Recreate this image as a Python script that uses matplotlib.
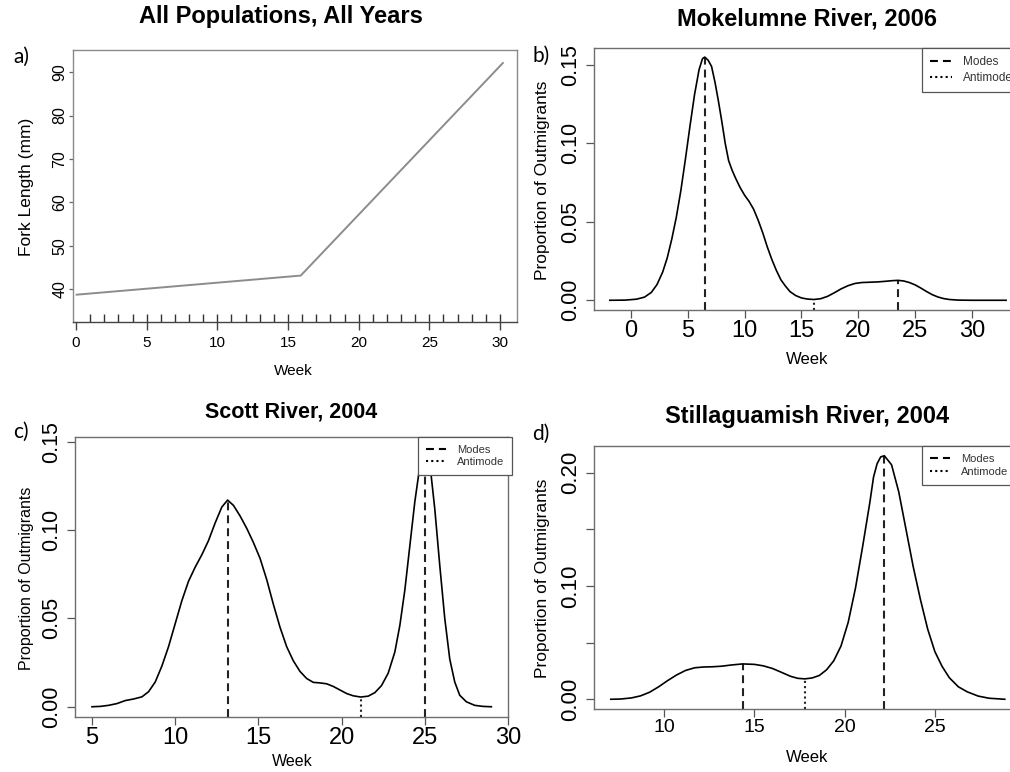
import numpy as np
import matplotlib
matplotlib.use("Agg")
import matplotlib.pyplot as plt
from matplotlib.lines import Line2D

# ---- data ----
# a) fork length vs week
weeks_a = [0.05, 15.9, 30.2]
fork_length = [38.7, 43.1, 92.1]
rug_weeks = list(range(1, 31))

# b) Mokelumne River, 2006
weeks_b = [-1.85, -0.5, 0.5, 1.2, 1.8, 2.3, 2.8, 3.2, 3.6, 4.0, 4.4, 4.8, 5.2, 5.6, 6.0,
           6.3, 6.5, 6.8, 7.1, 7.4, 7.7, 8.0, 8.3, 8.6, 8.9, 9.2, 9.6, 10.0, 10.4, 10.8,
           11.2, 11.6, 12.0, 12.4, 12.8, 13.2, 13.6, 14.0, 14.5, 15.0, 15.5, 16.1, 16.7,
           17.3, 17.9, 18.5, 19.1, 19.7, 20.3, 21.0, 21.7, 22.4, 23.0, 23.5, 24.0, 24.5,
           25.0, 25.5, 26.0, 26.5, 27.0, 27.5, 28.0, 28.8, 30.0, 31.5, 33.0]
prop_b = [0.0, 0.0001, 0.0007, 0.002, 0.005, 0.010, 0.018, 0.027, 0.039, 0.053, 0.070,
          0.090, 0.111, 0.131, 0.147, 0.154, 0.155, 0.153, 0.149, 0.139, 0.127, 0.114,
          0.100, 0.089, 0.083, 0.078, 0.072, 0.067, 0.063, 0.058, 0.051, 0.043, 0.034,
          0.026, 0.019, 0.013, 0.009, 0.0055, 0.003, 0.0015, 0.0008, 0.0005, 0.001,
          0.0025, 0.0048, 0.0073, 0.0093, 0.0107, 0.0113, 0.0115, 0.0117, 0.0121, 0.0125,
          0.0127, 0.0123, 0.0113, 0.0098, 0.0078, 0.0056, 0.0036, 0.0021, 0.0011, 0.0005,
          0.0001, 0.0, 0.0, 0.0]
modes_b = [6.5, 23.5]
mode_h_b = [0.155, 0.0127]
anti_b = [16.1]
anti_h_b = [0.0005]

# c) Scott River, 2004
weeks_c = [5.0, 5.5, 6.0, 6.5, 7.0, 7.5, 8.0, 8.4, 8.8, 9.2, 9.6, 10.0, 10.4, 10.8, 11.2,
           11.6, 12.0, 12.4, 12.8, 13.15, 13.5, 13.9, 14.3, 14.7, 15.1, 15.5, 15.9, 16.3,
           16.7, 17.1, 17.5, 17.9, 18.3, 18.7, 19.1, 19.5, 19.9, 20.3, 20.7, 21.15, 21.6,
           22.0, 22.4, 22.8, 23.2, 23.5, 23.8, 24.1, 24.4, 24.7, 25.0, 25.3, 25.6, 25.9,
           26.2, 26.5, 26.8, 27.1, 27.5, 28.0, 28.5, 29.0]
prop_c = [0.0, 0.0002, 0.0008, 0.0018, 0.0035, 0.0044, 0.0056, 0.0085, 0.014, 0.023,
          0.034, 0.047, 0.060, 0.071, 0.079, 0.086, 0.094, 0.104, 0.113, 0.117, 0.114,
          0.108, 0.101, 0.093, 0.084, 0.072, 0.058, 0.045, 0.034, 0.026, 0.020, 0.016,
          0.0138, 0.0135, 0.013, 0.0115, 0.0095, 0.0075, 0.0062, 0.0055, 0.006, 0.008,
          0.012, 0.019, 0.031, 0.046, 0.066, 0.091, 0.116, 0.136, 0.146, 0.138, 0.112,
          0.080, 0.050, 0.027, 0.014, 0.0065, 0.0028, 0.0008, 0.0002, 0.0]
modes_c = [13.15, 25.0]
mode_h_c = [0.117, 0.146]
anti_c = [21.15]
anti_h_c = [0.0055]

# d) Stillaguamish River, 2004
weeks_d = [7.05, 7.6, 8.2, 8.7, 9.2, 9.7, 10.2, 10.7, 11.2, 11.7, 12.2, 12.7, 13.2, 13.7,
           14.35, 15.0, 15.5, 16.0, 16.5, 17.0, 17.4, 17.8, 18.2, 18.6, 19.0, 19.4, 19.8,
           20.2, 20.6, 21.0, 21.4, 21.6, 21.8, 22.0, 22.2, 22.6, 23.0, 23.4, 23.8, 24.2,
           24.6, 25.0, 25.4, 25.8, 26.3, 26.8, 27.4, 28.0, 28.87]
prop_d = [0.0, 0.0002, 0.0012, 0.003, 0.0062, 0.011, 0.0165, 0.0215, 0.0255, 0.0278,
          0.0285, 0.0287, 0.0292, 0.0302, 0.0312, 0.0308, 0.0295, 0.0272, 0.0238, 0.0203,
          0.0185, 0.018, 0.0188, 0.021, 0.026, 0.034, 0.047, 0.068, 0.098, 0.135, 0.174,
          0.196, 0.208, 0.214, 0.215, 0.207, 0.183, 0.150, 0.117, 0.088, 0.062, 0.042,
          0.029, 0.019, 0.011, 0.0065, 0.0028, 0.0009, 0.0]
modes_d = [14.35, 22.2]
mode_h_d = [0.0312, 0.215]
anti_d = [17.8]
anti_h_d = [0.018]

W, H = 1010, 772
FONT = "Liberation Sans"
plt.rcParams["font.family"] = FONT

fig = plt.figure(figsize=(W / 100, H / 100), dpi=100)


def add_ax(left, top, right, bottom):
    # pixel box -> figure fraction
    return fig.add_axes([left / W, 1 - bottom / H, (right - left) / W, (bottom - top) / H])


def ftext(x, y, s, **kw):
    fig.text(x / W, 1 - y / H, s, ha="center", va="center", **kw)


MODE_DASH = (0, (3.8, 2.4))
ANTI_DASH = (0, (1.0, 1.5))


def style_box(ax, color):
    for sp in ax.spines.values():
        sp.set_color(color)
        sp.set_linewidth(1.0)


def rotate_yticks(ax):
    for lab in ax.get_yticklabels():
        lab.set_rotation(90)
        lab.set_va("center")
        lab.set_ha("right")


def density_panel(ax, weeks, prop, modes, mode_h, anti, anti_h, xlim, ylim,
                  xsize, ysize, legend_pos, legend_size, legend_spacing):
    ax.plot(weeks, prop, color="black", lw=1.2, zorder=2)
    ax.set_xlim(*xlim)
    ax.set_ylim(*ylim)
    ax.vlines(modes, ylim[0], mode_h, color="#222222", lw=1.5, linestyles=[MODE_DASH], zorder=1)
    ax.vlines(anti, ylim[0], anti_h, color="#222222", lw=1.5, linestyles=[ANTI_DASH], zorder=1)
    style_box(ax, "#6e6e6e")
    ax.tick_params(axis="x", labelsize=xsize, length=6, width=0.9, color="#555555", pad=1.5)
    ax.tick_params(axis="y", labelsize=ysize, length=6, width=0.9, color="#555555", pad=3)
    handles = [Line2D([], [], color="black", lw=1.5, linestyle=MODE_DASH),
               Line2D([], [], color="black", lw=1.5, linestyle=ANTI_DASH)]
    leg = ax.legend(handles, ["Modes", "Antimode"], loc="upper left",
                    bbox_to_anchor=(legend_pos[0] / W, 1 - legend_pos[1] / H),
                    bbox_transform=fig.transFigure, fontsize=legend_size,
                    frameon=True, fancybox=False, framealpha=1, edgecolor="#555555",
                    borderpad=0.7, handlelength=1.8, handletextpad=1.0,
                    labelspacing=legend_spacing, borderaxespad=0)
    leg.get_frame().set_linewidth(0.9)
    for t in leg.get_texts():
        t.set_color("#333333")
    leg.set_zorder(5)


# ---- a) All Populations, All Years ----
ax_a = add_ax(73, 50, 517, 322)
ax_a.plot(weeks_a, fork_length, color="#8c8c8c", lw=1.4)
ax_a.set_xlim(-0.21, 31.2)
ax_a.set_ylim(32.4, 95.1)
ax_a.vlines(rug_weeks, 0, 0.03, transform=ax_a.get_xaxis_transform(), color="#333333", lw=1.0)
ax_a.set_xticks(np.arange(0, 31, 5))
ax_a.set_yticks(np.arange(40, 91, 10))
style_box(ax_a, "#8a8a8a")
ax_a.spines["bottom"].set_color("#444444")
ax_a.tick_params(axis="x", labelsize=11, length=6, width=1.0, color="#444444", pad=4)
ax_a.tick_params(axis="y", labelsize=11.5, length=3, width=0.9, color="#666666", pad=1)
rotate_yticks(ax_a)
ftext(281, 16, "All Populations, All Years", fontsize=17, fontweight="bold")
ftext(293, 371, "Week", fontsize=11)
ftext(27, 187, "Fork Length (mm)", fontsize=12.5, rotation=90)
ftext(21, 57, "a)", fontsize=15, family="Lato")

# ---- b) Mokelumne River, 2006 ----
ax_b = add_ax(594, 48, 1022, 310)
ax_b.set_xticks(np.arange(0, 31, 5))
ax_b.set_yticks([0.0, 0.05, 0.10, 0.15])
ax_b.set_yticklabels(["0.00", "0.05", "0.10", "0.15"])
density_panel(ax_b, weeks_b, prop_b, modes_b, mode_h_b, anti_b, anti_h_b,
              (-3.24, 34.4), (-0.0062, 0.1608), 17, 15.5,
              (922, 48), 8.5, 0.3)
rotate_yticks(ax_b)
ftext(807, 19, "Mokelumne River, 2006", fontsize=17, fontweight="bold")
ftext(807, 360, "Week", fontsize=12)
ftext(542, 180, "Proportion of Outmigrants", fontsize=12.5, rotation=90)
ftext(541, 56, "b)", fontsize=15, family="Lato")

# ---- c) Scott River, 2004 ----
ax_c = add_ax(75, 437, 508, 717)
ax_c.set_xticks(np.arange(5, 31, 5))
ax_c.set_yticks([0.0, 0.05, 0.10, 0.15])
ax_c.set_yticklabels(["0.00", "0.05", "0.10", "0.15"])
density_panel(ax_c, weeks_c, prop_c, modes_c, mode_h_c, anti_c, anti_h_c,
              (3.98, 30.0), (-0.0058, 0.1527), 17, 15.5,
              (418, 437), 8, 0.2)
rotate_yticks(ax_c)
ftext(291, 412, "Scott River, 2004", fontsize=15.5, fontweight="bold")
ftext(292, 762, "Week", fontsize=11.5)
ftext(27, 578, "Proportion of Outmigrants", fontsize=11.5, rotation=90)
ftext(21, 432, "c)", fontsize=15, family="Lato")

# ---- d) Stillaguamish River, 2004 ----
ax_d = add_ax(594, 446, 1023, 709)
ax_d.set_xticks(np.arange(10, 26, 5))
ax_d.set_yticks([0.0, 0.05, 0.10, 0.15, 0.20])
ax_d.set_yticklabels(["0.00", "", "0.10", "", "0.20"])
density_panel(ax_d, weeks_d, prop_d, modes_d, mode_h_d, anti_d, anti_h_d,
              (6.12, 29.88), (-0.0086, 0.2236), 14, 16,
              (922, 446), 8, 0.3)
rotate_yticks(ax_d)
ftext(807, 417, "Stillaguamish River, 2004", fontsize=17, fontweight="bold")
ftext(807, 757, "Week", fontsize=12)
ftext(542, 578, "Proportion of Outmigrants", fontsize=12.5, rotation=90)
ftext(541, 434, "d)", fontsize=15, family="Lato")

fig.savefig("out.png", dpi=100)
